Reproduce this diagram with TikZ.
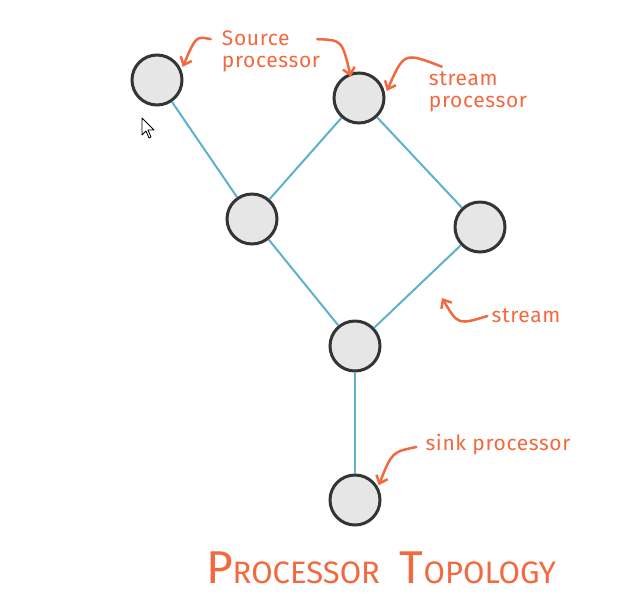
\documentclass[tikz,border=0pt]{standalone}
\usepackage{fontspec}
\setmainfont{Fira Sans}
\usetikzlibrary{arrows.meta}
\definecolor{inkred}{HTML}{F2683F}
\definecolor{linkblue}{HTML}{5EB1CB}
\definecolor{procfill}{HTML}{E6E6E6}
\definecolor{procdraw}{HTML}{343434}
\tikzset{
  proc/.style={
    circle, draw=procdraw, fill=procfill, line width=3pt,
    minimum size=50pt, inner sep=0pt
  },
  link/.style={
    draw=linkblue, line width=2pt
  },
  note/.style={
    text=inkred, align=left, inner sep=1pt,
    font=\fontsize{21}{22}\selectfont\addfontfeatures{LetterSpace=3}
  },
  notearr/.style={
    draw=inkred, line width=2.5pt, line cap=round,
    -{Straight Barb[length=7pt,width=12pt,line width=2.5pt]}
  },
  title/.style={
    text=inkred, inner sep=0pt, anchor=base
  }
}
\newcommand{\ttlcap}[1]{{\fontsize{46}{46}\selectfont #1}}
\newcommand{\ttlsmall}[1]{{\fontsize{31}{31}\selectfont #1}}

\begin{document}
\begin{tikzpicture}[x=1pt, y=-1pt]
  \useasboundingbox (0,0) rectangle (644,598);

  % processors
  \node[proc] (src)   at (157,80)  {};
  \node[proc] (strm)  at (359,98)  {};
  \node[proc] (left)  at (252,219) {};
  \node[proc] (right) at (480,227) {};
  \node[proc] (join)  at (355,346) {};
  \node[proc] (sink)  at (355,500) {};

  % streams
  \draw[link] (src) -- (left);
  \draw[link] (strm) -- (left);
  \draw[link] (strm) -- (right);
  \draw[link] (left) -- (join);
  \draw[link] (right) -- (join);
  \draw[link] (join) -- (sink);

  % labels
  \node[note] (srclbl)  at (271,51)  {Source\\processor};
  \node[note] (strmlbl) at (478,92)  {stream\\processor};
  \node[note] (edgelbl) at (526,316) {stream};
  \node[note] (sinklbl) at (498,445) {sink processor};
  \coordinate (edgetip) at (442,298);

  \draw[notearr] ([xshift=-10pt,yshift=-10pt]srclbl.north west) .. controls (196,36) .. ([shift={(4pt,-2pt)}]src.35);
  \draw[notearr] ([xshift=-4pt,yshift=-10pt]srclbl.north east) .. controls (342,40) .. ([yshift=-4pt]strm.108);
  \draw[notearr] ([xshift=14pt,yshift=4pt]strmlbl.north west) .. controls (404,52) .. ([shift={(3pt,-2pt)}]strm.20);
  \draw[notearr] ([xshift=-3pt]edgelbl.west) .. controls (458,325) .. (edgetip);
  \draw[notearr] ([xshift=-8pt,yshift=-2pt]sinklbl.west) .. controls (392,452) .. ([shift={(5pt,-4pt)}]sink.45);

  % title
  \node[title] (ttl) at (381,583) {\ttlcap{P}\ttlsmall{ROCESSOR}\hspace{20pt}\ttlcap{T}\ttlsmall{OPOLOGY}};

  % mouse pointer
  \draw[black, fill=white, line width=0.8pt, line join=round]
    (142,118) -- (142,135) -- (146,131) -- (149,138) -- (151,137) -- (148,130) -- (154,130) -- cycle;
\end{tikzpicture}
\end{document}
